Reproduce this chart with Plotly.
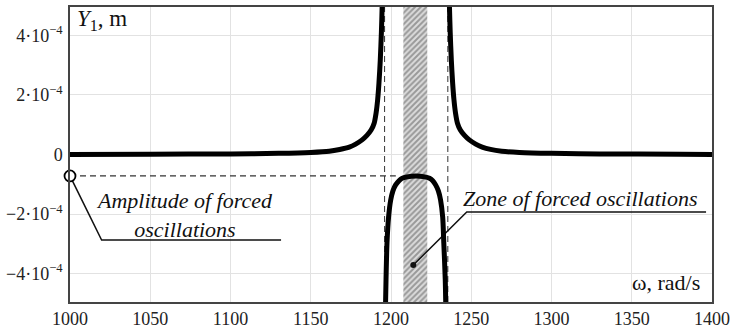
import plotly.graph_objects as go

SCALE = 1e-4

# Left resonance branch (omega rad/s, Y1 in 1e-4 m)
omega_left = [1000, 1050, 1100, 1130, 1150, 1161.5, 1168, 1174, 1178, 1182, 1185, 1187.6,
              1189.5, 1190.7, 1191.7, 1192.5, 1193.3, 1194, 1194.5, 1194.8]
y_left = [0.0, 0.01, 0.02, 0.04, 0.07, 0.11, 0.17, 0.25, 0.35, 0.49, 0.64, 0.82,
          1.05, 1.39, 1.85, 2.40, 3.15, 4.08, 5.0, 5.8]

# Middle (negative) branch
omega_mid = [1196.5, 1196.9, 1197.5, 1198.5, 1199.8, 1201.2, 1202.9, 1205, 1206.8, 1210, 1215.4,
             1221, 1224, 1226, 1227.8, 1229.5, 1230.9, 1232.2, 1232.9, 1233.8, 1234.2]
y_mid = [-5.3, -4.2, -2.97, -2.1, -1.53, -1.22, -1.02, -0.88, -0.8, -0.75, -0.72,
         -0.75, -0.8, -0.88, -1.02, -1.22, -1.53, -2.1, -2.97, -4.2, -5.3]

# Right resonance branch
omega_right = [1236.0, 1236.4, 1236.9, 1237.6, 1238.4, 1239.2, 1240.2, 1241.4, 1243.2, 1245.8,
               1248.8, 1252.8, 1256.8, 1262, 1269, 1280, 1300, 1330, 1380, 1400]
y_right = [5.8, 5.0, 4.08, 3.15, 2.40, 1.85, 1.39, 1.05, 0.82, 0.64,
           0.49, 0.35, 0.25, 0.17, 0.11, 0.07, 0.04, 0.02, 0.01, 0.0]

# Zone of forced oscillations (hatched band) and resonance markers
zone_omega = [1207.7, 1222.6]
resonance_omega = [1196, 1235.4]
amplitude = -0.72

x_ticks = [1000, 1050, 1100, 1150, 1200, 1250, 1300, 1350, 1400]
y_tickvals = [4, 2, 0, -2, -4]
y_ticktext = ["4·10<sup>−4</sup>", "2·10<sup>−4</sup>", "0",
              "−2·10<sup>−4</sup>", "−4·10<sup>−4</sup>"]

Y_MIN, Y_MAX = -4.95, 4.95
SERIF = "Liberation Serif"

fig = go.Figure()

# hatched band
fig.add_trace(go.Scatter(
    x=[zone_omega[0], zone_omega[1], zone_omega[1], zone_omega[0], zone_omega[0]],
    y=[Y_MIN * SCALE, Y_MIN * SCALE, Y_MAX * SCALE, Y_MAX * SCALE, Y_MIN * SCALE],
    mode="lines", fill="toself", line=dict(width=0, color="rgba(0,0,0,0)"),
    fillcolor="white",
    fillpattern=dict(shape="/", fgcolor="#555555", bgcolor="#dcdcdc", size=4, solidity=0.5),
    hoverinfo="skip", showlegend=False))

# dashed resonance lines
for w in resonance_omega:
    fig.add_trace(go.Scatter(x=[w, w], y=[Y_MIN * SCALE, Y_MAX * SCALE], mode="lines",
                             line=dict(color="#333", width=1, dash="6px,4px"),
                             hoverinfo="skip", showlegend=False))

# horizontal dashed amplitude line
fig.add_trace(go.Scatter(x=[1000, 1203], y=[amplitude * SCALE, amplitude * SCALE], mode="lines",
                         line=dict(color="#333", width=1.2, dash="6px,4px"),
                         hoverinfo="skip", showlegend=False))

# leader lines
fig.add_trace(go.Scatter(x=[1000, 1019.7, 1131.5], y=[amplitude * SCALE, -2.87 * SCALE, -2.87 * SCALE],
                         mode="lines", line=dict(color="#111", width=1.5),
                         hoverinfo="skip", showlegend=False, cliponaxis=False))
fig.add_trace(go.Scatter(x=[1213.9, 1247.2, 1396.3], y=[-3.71 * SCALE, -1.93 * SCALE, -1.93 * SCALE],
                         mode="lines", line=dict(color="#111", width=1.5),
                         hoverinfo="skip", showlegend=False))
fig.add_trace(go.Scatter(x=[1213.9], y=[-3.71 * SCALE], mode="markers",
                         marker=dict(color="#111", size=6),
                         hoverinfo="skip", showlegend=False))

# curve branches
for xs, ys in [(omega_left, y_left), (omega_mid, y_mid), (omega_right, y_right)]:
    fig.add_trace(go.Scatter(x=xs, y=[v * SCALE for v in ys], mode="lines",
                             line=dict(color="black", width=5, shape="spline", smoothing=0.8),
                             hoverinfo="skip", showlegend=False))

# open circle at amplitude
fig.add_trace(go.Scatter(x=[1000], y=[amplitude * SCALE], mode="markers",
                         marker=dict(color="white", size=11, line=dict(color="black", width=1.8)),
                         hoverinfo="skip", showlegend=False, cliponaxis=False))

fig.add_annotation(x=1071.4, y=-2.03 * SCALE, xref="x", yref="y",
                   text="<i>Amplitude of forced</i><br><i>oscillations</i>",
                   showarrow=False, font=dict(family=SERIF, size=22, color="#111"),
                   align="center")
fig.add_annotation(x=1318, y=-1.46 * SCALE, xref="x", yref="y",
                   text="<i>Zone of forced oscillations</i>",
                   showarrow=False, font=dict(family=SERIF, size=22, color="#111"))
fig.add_annotation(x=0.008, y=0.955, xref="paper", yref="paper", xanchor="left", yanchor="middle",
                   text="<i>Y</i><sub>1</sub>, m", showarrow=False,
                   font=dict(family=SERIF, size=23, color="#111"))
fig.add_annotation(x=0.984, y=0.065, xref="paper", yref="paper", xanchor="right", yanchor="middle",
                   text="ω, rad/s", showarrow=False,
                   font=dict(family=SERIF, size=22, color="#111"))

fig.update_layout(
    width=735, height=330,
    margin=dict(l=70, r=23, t=7, b=28, autoexpand=False),
    paper_bgcolor="white", plot_bgcolor="white",
    showlegend=False,
)
fig.update_xaxes(range=[1000, 1400], tickvals=x_ticks, showgrid=True, gridcolor="#e2e2e2", gridwidth=1,
                 zeroline=False, showline=True, linecolor="#444", linewidth=1.5, mirror=True,
                 ticks="", automargin=False,
                 tickfont=dict(family=SERIF, size=18, color="#222"))
fig.update_yaxes(range=[Y_MIN * SCALE, Y_MAX * SCALE], tickvals=[v * SCALE for v in y_tickvals],
                 ticktext=y_ticktext, showgrid=True, gridcolor="#e2e2e2", gridwidth=1,
                 zeroline=False, showline=True, linecolor="#444", linewidth=1.5, mirror=True,
                 ticks="outside", ticklen=2, tickcolor="rgba(0,0,0,0)", automargin=False,
                 tickfont=dict(family=SERIF, size=18, color="#222"))

fig.write_html("out.html", config={"displayModeBar": False},
               post_script="document.body.style.margin='0';document.body.style.padding='0';")
